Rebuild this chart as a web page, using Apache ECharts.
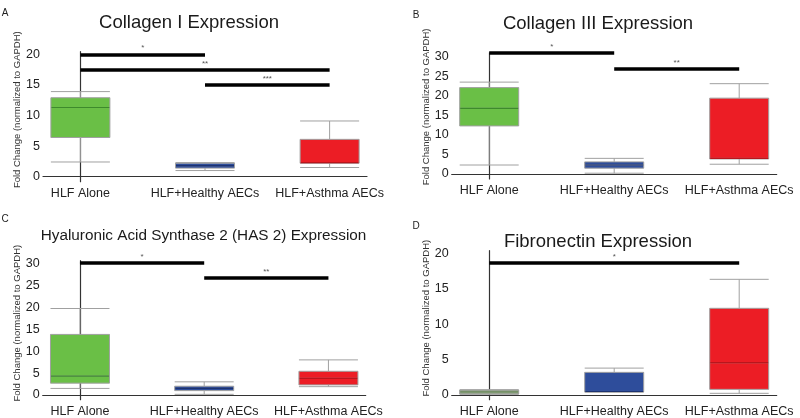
<!DOCTYPE html>
<html><head><meta charset="utf-8">
<script src="https://cdn.jsdelivr.net/npm/echarts@6/dist/echarts.min.js"></script>
<style>html,body{margin:0;padding:0;background:#fff}#c{width:800px;height:418px}</style>
</head><body><div id="c"></div>
<script>
// ---------- data ----------
const categories = ['HLF Alone', 'HLF+Healthy AECs', 'HLF+Asthma AECs'];
const titles = ['Collagen I Expression', 'Collagen III Expression', 'Hyaluronic Acid Synthase 2 (HAS 2) Expression', 'Fibronectin Expression'];
const panelLetters = ['A', 'B', 'C', 'D'];
const yAxisName = 'Fold Change (normalized to GAPDH)';
const yTicksA = [0, 5, 10, 15, 20];
const yTicksB = [0, 5, 10, 15, 20, 25, 30];
const yTicksC = [0, 5, 10, 15, 20, 25, 30];
const yTicksD = [0, 5, 10, 15, 20];
// each box: [min, Q1, median, Q3, max]
const collagen1 = [[2.4, 6.4, 11.3, 12.9, 13.9], [1.0, 1.4, 1.8, 2.2, 2.3], [1.5, 2.2, 2.3, 6.1, 9.1]];
const collagen3 = [[2.3, 12.3, 16.8, 22.1, 23.5], [0.2, 1.5, 2.3, 3.1, 4.0], [2.5, 3.85, 4.0, 19.4, 23.1]];
const has2 = [[1.5, 2.7, 4.3, 13.8, 19.7], [0.15, 1.0, 1.5, 2.0, 3.0], [1.9, 2.3, 3.8, 5.4, 8.0]];
const fibronectin = [[0.1, 0.15, 0.45, 0.7, 0.75], [0.4, 0.45, 0.5, 3.2, 3.8], [0.24, 0.8, 4.56, 12.24, 16.33]];
// significance bars: [fromCategory, toCategory, level, marker]
const sigCollagen1 = [[0, 1, 20, '*'], [0, 2, 17.4, '**'], [1, 2, 15, '***']];
const sigCollagen3 = [[0, 1, 30.9, '*'], [1, 2, 26.9, '**']];
const sigHas2 = [[0, 1, 30.05, '*'], [1, 2, 26.6, '**']];
const sigFibronectin = [[0, 2, 18.6, '*']];

// ---------- styles / layout ----------
const FONT = 'Liberation Sans, Arial, sans-serif';
const panels = [
  { data: collagen1, sig: sigCollagen1, ticks: yTicksA, grid: { left: 43, top: 51.7, width: 324, height: 130 }, yMin: -0.82, yMax: 20.42,
    title: [189, 23], letter: [5, 13], fills: ['#6abf46', '#2e4d9b', '#ec1d25'], medians: ['#3d8a2c', '#1d3370', '#b8161d'], titleSize: 18.5, nameShift: 14 },
  { data: collagen3, sig: sigCollagen3, ticks: yTicksB, grid: { left: 451.7, top: 52.8, width: 325, height: 126.2 }, yMin: -1.28, yMax: 31,
    title: [598, 23.5], letter: [416, 15], fills: ['#6abf46', '#2e4d9b', '#ec1d25'], medians: ['#3d8a2c', '#1d3370', '#b8161d'], titleSize: 18.5, nameShift: 18 },
  { data: has2, sig: sigHas2, ticks: yTicksC, grid: { left: 42.7, top: 260.7, width: 323, height: 139 }, yMin: -1.07, yMax: 30.59,
    title: [203.5, 236], letter: [5, 219], fills: ['#6abf46', '#2e4d9b', '#ec1d25'], medians: ['#3d8a2c', '#1d3370', '#b8161d'], titleSize: 15.3, nameShift: 14 },
  { data: fibronectin, sig: sigFibronectin, ticks: yTicksD, grid: { left: 451.7, top: 250.7, width: 325, height: 149 }, yMin: -0.66, yMax: 20.37,
    title: [598, 241.5], letter: [416, 226], fills: ['#8faa80', '#2e4d9b', '#ec1d25'], medians: ['#6a8a5a', '#1d3370', '#b8161d'], titleSize: 18.5, nameShift: 14 }
];

const grid = [], xAxis = [], yAxis = [], series = [], graphic = [];
panels.forEach((p, pi) => {
  grid.push(Object.assign({ containLabel: false }, p.grid));
  xAxis.push({
    gridIndex: pi, type: 'value', min: -0.3, max: 2.3,
    axisLine: { show: true, lineStyle: { color: '#333', width: 1.2 } },
    axisTick: { show: false }, splitLine: { show: false },
    axisLabel: { customValues: [0, 1, 2], formatter: v => categories[Math.round(v)], fontSize: 12.5, color: '#222', margin: 5, fontFamily: FONT }
  });
  xAxis.push({ gridIndex: pi, type: 'value', min: -0.3, max: 2.3, show: false });
  yAxis.push({
    gridIndex: pi, type: 'value', min: p.yMin, max: p.yMax,
    axisLine: { show: true, lineStyle: { color: '#333', width: 1.2 } },
    axisTick: { show: false }, splitLine: { show: false },
    axisLabel: { customValues: p.ticks, fontSize: 12.5, color: '#222', margin: 3, fontFamily: FONT },
    name: yAxisName, nameLocation: 'middle', nameRotate: 90, nameGap: 19,
    nameTextStyle: { fontSize: 9.5, color: '#333', fontFamily: FONT, padding: [0, 0, 0, p.nameShift] }
  });
  series.push({
    type: 'boxplot', xAxisIndex: pi * 2, yAxisIndex: pi, boxWidth: [59, 59], silent: true,
    itemStyle: { borderColor: '#a0a0a0', borderWidth: 1 },
    data: p.data.map((b, i) => ({ value: [i].concat(b), itemStyle: { color: p.fills[i], borderColor: '#a0a0a0' } }))
  });
  series.push({
    type: 'boxplot', xAxisIndex: pi * 2 + 1, yAxisIndex: pi, boxWidth: [58, 58], silent: true,
    data: p.data.map((b, i) => ({ value: [i, b[2], b[2], b[2], b[2], b[2]], itemStyle: { color: 'transparent', borderColor: p.medians[i], borderWidth: 1.2 } }))
  });
  series.push({
    type: 'line', xAxisIndex: pi * 2, yAxisIndex: pi, data: [], silent: true,
    markLine: {
      silent: true, symbol: ['none', 'none'], animation: false,
      lineStyle: { color: '#000', width: 3.5, type: 'solid' },
      label: { show: true, position: 'middle', formatter: '{b}', fontSize: 8, color: '#555', distance: 2, fontFamily: FONT },
      emphasis: { disabled: true },
      data: p.sig.map(s => [{ coord: [s[0], s[2]], name: s[3] }, { coord: [s[1], s[2]] }])
    }
  });
  graphic.push({ type: 'text', x: p.title[0], y: p.title[1], silent: true,
    style: { text: titles[pi], font: p.titleSize + 'px ' + FONT, fill: '#1a1a1a', textAlign: 'center', textVerticalAlign: 'middle' } });
  graphic.push({ type: 'text', x: p.letter[0], y: p.letter[1], silent: true,
    style: { text: panelLetters[pi], font: '10px ' + FONT, fill: '#222', textAlign: 'center', textVerticalAlign: 'middle' } });
});

const chart = echarts.init(document.getElementById('c'), null, { renderer: 'canvas' });
chart.setOption({ animation: false, backgroundColor: '#fff', grid, xAxis, yAxis, series, graphic });
</script>
</body></html>
